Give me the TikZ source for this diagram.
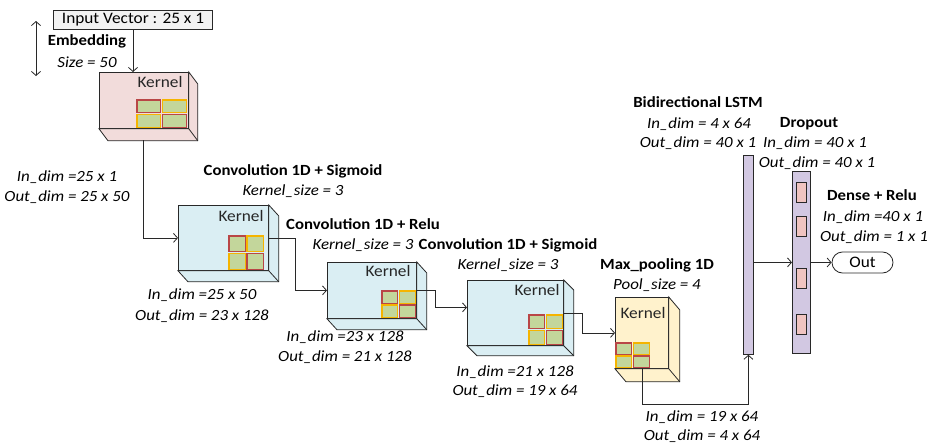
\documentclass[tikz,border=0pt]{standalone}
\usepackage{fontspec}
\setmainfont{Carlito}[FakeStretch=1.08]
\newfontfamily\dimfont{Carlito}[FakeStretch=1.09]
\usetikzlibrary{calc,arrows.meta}

\definecolor{embfill}{RGB}{242,220,219}
\definecolor{convfill}{RGB}{218,238,243}
\definecolor{poolfill}{RGB}{255,242,204}
\definecolor{barfill}{RGB}{210,200,226}
\definecolor{unitfill}{RGB}{240,196,192}
\definecolor{cellfill}{RGB}{195,214,155}
\definecolor{cellred}{RGB}{185,70,70}
\definecolor{cellyellow}{RGB}{245,180,0}
\definecolor{inpfill}{RGB}{242,242,242}
\definecolor{edge}{RGB}{40,40,40}

% depth faces of a layer block, behind its front face
\newcommand\blockdepth[3]{%
  \draw[boxline,fill=#2] (#1.north east) -- ++(#3) -- ($(#1.south east)+(#3)$)
    -- ($(#1.south west)+(#3)$) -- (#1.south west) -- (#1.south east) -- cycle;
  \draw[boxline] (#1.south east) -- ++(#3);}

% one kernel cell, inset so that neighbouring borders stay apart
\newcommand\kcell[5]{%
  \draw[cell,draw=#5] ($(#1,#2)+(0.8,-0.8)$) rectangle ($(#1+#3,#2-#4)+(-0.8,0.8)$);}
% 2x2 kernel grid: lower-left corner x, y; cell width, height
\newcommand\kgrid[4]{%
  \kcell{#1}{#2}{#3}{#4}{cellyellow}
  \kcell{#1+#3}{#2}{#3}{#4}{cellred}
  \kcell{#1}{#2-#4}{#3}{#4}{cellred}
  \kcell{#1+#3}{#2-#4}{#3}{#4}{cellyellow}}

\begin{document}
\begin{tikzpicture}[x=1pt,y=-1pt,
  every node/.style={font=\fontsize{16}{18}\selectfont, inner sep=0pt},
  boxline/.style={draw=edge, line width=0.8pt},
  front/.style={boxline, anchor=north west},
  cell/.style={fill=cellfill, line width=1.4pt},
  head/.style={font=\fontsize{15.5}{18}\selectfont\bfseries},
  dims/.style={font=\dimfont\fontsize{15.5}{18}\selectfont\itshape},
  conn/.style={draw=edge, line width=0.8pt},
  arr/.style={conn, -{Straight Barb[length=4pt,width=9pt]}},
  kern/.style={font=\fontsize{16}{18}\selectfont, text=black!85}
]
\useasboundingbox (0,0) rectangle (935,447);

% input vector
\node[boxline, fill=inpfill, minimum width=159, minimum height=19] (inp) at (133,20) {Input Vector : 25 x 1};
\coordinate (emtop) at (36,21);
\coordinate (embot) at (36,76);
\draw[conn, {Straight Barb[length=4pt,width=9pt]}-{Straight Barb[length=4pt,width=9pt]}] (emtop) -- (embot);
\node[head] (embt) at (87,41) {Embedding};
\node[dims] (embs) at (87,62) {Size = 50};

% embedding block
\node[front, fill=embfill, minimum width=89, minimum height=56] (emb) at (99,72) {};
\blockdepth{emb}{embfill}{9,12}
\kgrid{136}{128}{25.5}{14.5}
\node[kern] (embk) at (160,82) {Kernel};

% convolution blocks
\node[front, fill=convfill, minimum width=90, minimum height=65] (c1) at (178,205) {};
\blockdepth{c1}{convfill}{10,11}
\kgrid{228}{270}{18}{17.5}
\node[kern] (c1k) at (241,216) {Kernel};

\node[front, fill=convfill, minimum width=89, minimum height=56] (c2) at (327,262) {};
\blockdepth{c2}{convfill}{10,11}
\kgrid{381}{318}{17.5}{14}
\node[kern] (c2k) at (388,271) {Kernel};

\node[front, fill=convfill, minimum width=96, minimum height=65] (c3) at (467,280) {};
\blockdepth{c3}{convfill}{10,10}
\kgrid{528}{345}{17.5}{15.5}
\node[kern] (c3k) at (537,290) {Kernel};

% max pooling block
\node[front, fill=poolfill, minimum width=53, minimum height=71] (mp) at (615,297) {};
\blockdepth{mp}{poolfill}{11,13}
\kgrid{615}{368}{17.5}{13}
\node[kern] (mpk) at (643,313) {Kernel};

% LSTM and dropout bars
\node[boxline, fill=barfill, anchor=north west, minimum width=10, minimum height=199] (lstm) at (743,155) {};
\node[boxline, fill=barfill, anchor=north west, minimum width=18, minimum height=182] (drop) at (792,171) {};
\foreach \y in {182,216,268,314}
  \draw[boxline, fill=unitfill, line width=0.7pt] (796,\y) rectangle ++(10,20);

% output
\node[boxline, rounded corners=10.5pt, minimum width=61, minimum height=21] (out) at (862.5,262.5) {Out};

% connectors
\coordinate (embout) at (143,140);
\coordinate (mpout) at (642,368);
\draw[arr] (inp.south) -- (inp.south |- emb.north);
\draw[arr] (embout) |- (c1.west);
\draw[arr] (c1.east) -- ++(27,0) |- (c2.west);
\draw[arr] (c2.east) -- ++(19,0) |- ([yshift=5.5pt]c3.west);
\draw[arr] (c3.east) -- ++(19,0) |- (mp.west);
\draw[arr] (mpout) -- ++(0,36) -| (lstm.south);
\draw[arr] (lstm.east |- drop.west) -- (drop.west);
\draw[arr] (drop.east) -- (out.west);

% labels
\node[dims] (l1a) at (67,177) {In\_dim =25 x 1};
\node[dims] (l1b) at (67,197) {Out\_dim = 25 x 50};
\node[head] (h1a) at (293,171) {Convolution 1D + Sigmoid};
\node[dims] (h1b) at (293,191) {Kernel\_size = 3};
\node[dims] (l2a) at (202,295) {In\_dim =25 x 50};
\node[dims] (l2b) at (202,316) {Out\_dim = 23 x 128};
\node[head] (h2a) at (363,224) {Convolution 1D + Relu};
\node[dims] (h2b) at (363,245) {Kernel\_size = 3};
\node[dims] (l3a) at (345,337) {In\_dim =23 x 128};
\node[dims] (l3b) at (345,357) {Out\_dim = 21 x 128};
\node[head] (h3a) at (508,245) {Convolution 1D + Sigmoid};
\node[dims] (h3b) at (508,265) {Kernel\_size = 3};
\node[dims] (l4a) at (515,372) {In\_dim =21 x 128};
\node[dims] (l4b) at (515,391) {Out\_dim = 19 x 64};
\node[head] (h4a) at (657,265) {Max\_pooling 1D};
\node[dims] (h4b) at (657,285) {Pool\_size = 4};
\node[dims] (l5a) at (702,417) {In\_dim = 19 x 64};
\node[dims] (l5b) at (702,436) {Out\_dim = 4 x 64};
\node[head] (h5a) at (698,102) {Bidirectional LSTM};
\node[dims] (h5b) at (699,124) {In\_dim = 4 x 64};
\node[dims] (h5c) at (698,143) {Out\_dim = 40 x 1};
\node[head] (h6a) at (809,124) {Dropout};
\node[dims] (h6b) at (815,143) {In\_dim = 40 x 1};
\node[dims] (h6c) at (817,163) {Out\_dim = 40 x 1};
\node[head] (h7a) at (872,195) {Dense + Relu};
\node[dims] (h7b) at (873,217) {In\_dim =40 x 1};
\node[dims] (h7c) at (874,237) {Out\_dim = 1 x 1};
\end{tikzpicture}
\end{document}
